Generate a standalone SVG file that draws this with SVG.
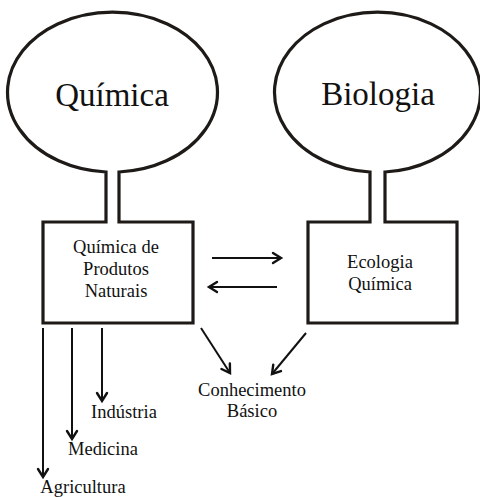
<svg xmlns="http://www.w3.org/2000/svg" width="480" height="497" viewBox="0 0 480 497">
<style>
.shape{fill:#fff;stroke:#1e1a18;stroke-width:3.2;stroke-linejoin:miter}
.t{font-family:"Liberation Serif","Times New Roman",Times,Tinos,"DejaVu Serif",serif;fill:#111;text-anchor:middle}
.big{font-size:33px}
.sm{font-size:18.5px}
.ar{stroke:#111;stroke-width:2;fill:none;marker-end:url(#ah)}
</style>
<defs>
<marker id="ah" markerUnits="userSpaceOnUse" markerWidth="16" markerHeight="16" refX="0" refY="0" viewBox="-10 -8 12 16" orient="auto" overflow="visible">
<path d="M-8,-5 L0,0 L-8,5" fill="none" stroke="#111" stroke-width="2.4" stroke-linecap="round"/>
</marker>
</defs>
<rect width="480" height="497" fill="#fff"/>
<g id="quimica">
<path class="shape" d="M106,172 L106,222 L43,222 L43,323 L193,323 L193,222 L119,222 L119,172 A105,80 0 1 0 106,172 Z"/>
<text class="t big" x="112" y="106">Química</text>
<text class="t sm" x="116" y="253">Química de</text>
<text class="t sm" x="116" y="275">Produtos</text>
<text class="t sm" x="116" y="297">Naturais</text>
</g>
<g id="biologia">
<path class="shape" d="M370,172 L370,222 L308,222 L308,323 L457,323 L457,222 L385,222 L385,172 A103,80 0 1 0 370,172 Z"/>
<text class="t big" x="378" y="105">Biologia</text>
<text class="t sm" x="380" y="268">Ecologia</text>
<text class="t sm" x="380" y="290">Química</text>
</g>
<g id="conhecimento">
<text class="t sm" x="252" y="396">Conhecimento</text>
<text class="t sm" x="252" y="417">Básico</text>
</g>
<g id="industria"><text class="t sm" x="124" y="418">Indústria</text></g>
<g id="medicina"><text class="t sm" x="103" y="455">Medicina</text></g>
<g id="agricultura"><text class="t sm" x="83" y="493">Agricultura</text></g>
<g id="connectors">
<line class="ar" x1="212" y1="258" x2="281" y2="258"/>
<line class="ar" x1="277" y1="287" x2="209" y2="287"/>
<line class="ar" x1="201" y1="328" x2="230" y2="373"/>
<line class="ar" x1="306" y1="333" x2="272" y2="374"/>
<line class="ar" x1="102" y1="328" x2="102" y2="401"/>
<line class="ar" x1="72" y1="328" x2="72" y2="439"/>
<line class="ar" x1="43" y1="328" x2="43" y2="477"/>
</g>
</svg>
